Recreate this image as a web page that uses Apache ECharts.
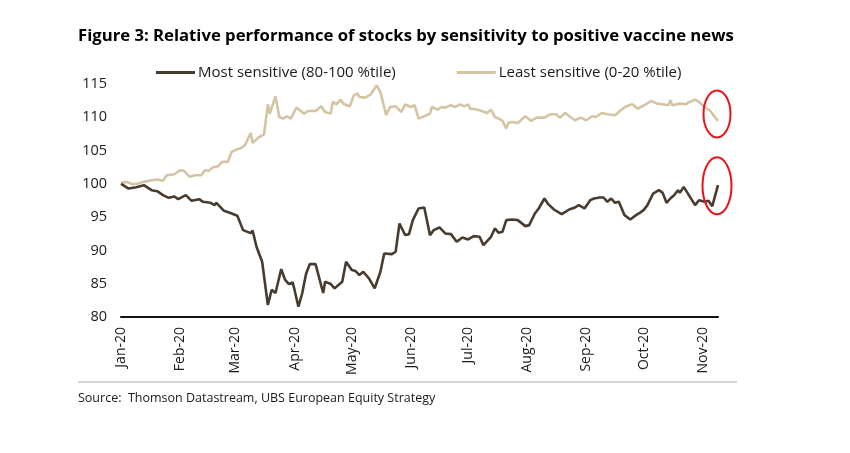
<!DOCTYPE html>
<html>
<head>
<meta charset="utf-8">
<script src="https://cdn.jsdelivr.net/npm/echarts@6/dist/echarts.min.js"></script>
<style>
  html, body { margin: 0; padding: 0; background: #fff; }
  #main { width: 850px; height: 453px; }
</style>
</head>
<body>
<div id="main"></div>
<script>
// series names
const seriesNames = ['Most sensitive (80-100 %tile)', 'Least sensitive (0-20 %tile)'];
const monthNames = ['Jan', 'Feb', 'Mar', 'Apr', 'May', 'Jun', 'Jul', 'Aug', 'Sep', 'Oct', 'Nov', 'Dec'];
const yTicks = [80, 85, 90, 95, 100, 105, 110, 115];

// Most sensitive (80-100 %tile) - dates and index values
const mostDates = [
  '2020-01-01','2020-01-05','2020-01-09','2020-01-13','2020-01-17','2020-01-20','2020-01-23','2020-01-26','2020-01-29','2020-01-31',
  '2020-02-04','2020-02-07','2020-02-11','2020-02-13','2020-02-17','2020-02-19','2020-02-20','2020-02-24','2020-02-27','2020-02-28',
  '2020-03-02','2020-03-05','2020-03-09','2020-03-10','2020-03-12','2020-03-15','2020-03-18','2020-03-20','2020-03-22','2020-03-25',
  '2020-03-27','2020-03-29','2020-03-31','2020-04-01','2020-04-03','2020-04-05','2020-04-07','2020-04-09','2020-04-12','2020-04-16',
  '2020-04-17','2020-04-20','2020-04-22','2020-04-24','2020-04-26','2020-04-28','2020-05-01','2020-05-03','2020-05-05','2020-05-07',
  '2020-05-10','2020-05-13','2020-05-16','2020-05-18','2020-05-22','2020-05-24','2020-05-26','2020-05-29','2020-05-31','2020-06-02',
  '2020-06-05','2020-06-08','2020-06-11','2020-06-13','2020-06-16','2020-06-19','2020-06-22','2020-06-25','2020-06-28','2020-07-01',
  '2020-07-04','2020-07-07','2020-07-09','2020-07-13','2020-07-15','2020-07-17','2020-07-19','2020-07-21','2020-07-24','2020-07-27',
  '2020-07-31','2020-08-02','2020-08-05','2020-08-07','2020-08-10','2020-08-12','2020-08-15','2020-08-19','2020-08-21','2020-08-23',
  '2020-08-26','2020-08-28','2020-08-31','2020-09-03','2020-09-05','2020-09-08','2020-09-09','2020-09-10','2020-09-12','2020-09-14',
  '2020-09-16','2020-09-18','2020-09-21','2020-09-24','2020-09-27','2020-09-29','2020-10-01','2020-10-03','2020-10-06','2020-10-09',
  '2020-10-11','2020-10-13','2020-10-15','2020-10-17','2020-10-19','2020-10-20','2020-10-22','2020-10-24','2020-10-28','2020-10-30',
  '2020-11-02','2020-11-04','2020-11-06','2020-11-09'
];
const mostValues = [
  100.0, 99.3, 99.5, 99.8, 99.05, 98.9, 98.3, 97.9, 98.1, 97.7,
  98.3, 97.45, 97.7, 97.3, 97.15, 96.8, 97.15, 95.95, 95.65, 95.8,
  95.2, 93.05, 92.6, 93.0, 90.6, 88.3, 81.8, 84.1, 83.6, 87.2,
  85.6, 84.95, 85.2, 84.05, 81.55, 83.55, 86.45, 87.95, 87.95, 83.6,
  85.3, 84.95, 84.3, 84.8, 85.3, 88.3, 87.05, 86.9, 86.3, 86.8,
  85.8, 84.3, 86.8, 89.55, 89.45, 89.8, 94.05, 92.3, 92.45, 94.55,
  96.3, 96.45, 92.3, 93.05, 93.45, 92.55, 92.45, 91.3, 91.95, 91.65,
  92.15, 92.05, 90.8, 92.05, 93.3, 92.65, 92.8, 94.55, 94.65, 94.55,
  93.65, 93.8, 95.55, 96.3, 97.8, 96.95, 96.15, 95.45, 95.8, 96.15,
  96.45, 96.8, 96.3, 97.55, 97.8, 97.95, 97.65, 97.95, 97.3, 97.8,
  97.15, 97.3, 95.3, 94.65, 95.3, 95.65, 96.05, 96.8, 98.55, 99.05,
  98.65, 97.15, 97.8, 98.3, 99.05, 98.65, 99.55, 98.65, 96.8, 97.55,
  97.3, 97.45, 96.65, 99.8
];

// Least sensitive (0-20 %tile) - dates and index values
const leastDates = [
  '2020-01-01','2020-01-04','2020-01-07','2020-01-10','2020-01-13','2020-01-17','2020-01-20','2020-01-23','2020-01-25','2020-01-29',
  '2020-02-01','2020-02-03','2020-02-06','2020-02-09','2020-02-12','2020-02-14','2020-02-16','2020-02-18','2020-02-21','2020-02-23',
  '2020-02-26','2020-02-28','2020-02-29','2020-03-02','2020-03-04','2020-03-06','2020-03-09','2020-03-10','2020-03-13','2020-03-16',
  '2020-03-18','2020-03-19','2020-03-22','2020-03-24','2020-03-26','2020-03-28','2020-03-30','2020-04-02','2020-04-03','2020-04-06',
  '2020-04-08','2020-04-12','2020-04-15','2020-04-17','2020-04-20','2020-04-21','2020-04-23','2020-04-25','2020-04-27','2020-04-30',
  '2020-05-02','2020-05-04','2020-05-05','2020-05-08','2020-05-11','2020-05-14','2020-05-16','2020-05-19','2020-05-21','2020-05-24',
  '2020-05-27','2020-05-29','2020-06-01','2020-06-03','2020-06-05','2020-06-08','2020-06-11','2020-06-12','2020-06-15','2020-06-17',
  '2020-06-19','2020-06-22','2020-06-24','2020-06-27','2020-06-29','2020-07-01','2020-07-02','2020-07-05','2020-07-08','2020-07-11',
  '2020-07-13','2020-07-15','2020-07-17','2020-07-19','2020-07-21','2020-07-22','2020-07-24','2020-07-27','2020-07-31','2020-08-03',
  '2020-08-06','2020-08-10','2020-08-13','2020-08-16','2020-08-18','2020-08-21','2020-08-23','2020-08-26','2020-08-29','2020-09-01',
  '2020-09-04','2020-09-06','2020-09-09','2020-09-12','2020-09-16','2020-09-19','2020-09-22','2020-09-25','2020-09-28','2020-10-02',
  '2020-10-05','2020-10-08','2020-10-11','2020-10-14','2020-10-15','2020-10-16','2020-10-20','2020-10-23','2020-10-25','2020-10-28',
  '2020-10-30','2020-11-02','2020-11-05','2020-11-07','2020-11-09'
];
const leastValues = [
  100.15, 100.3, 99.95, 100.05, 100.3, 100.55, 100.65, 100.45, 101.3, 101.45,
  102.05, 101.95, 101.05, 101.3, 101.3, 102.05, 101.95, 102.45, 102.65, 103.3,
  103.3, 104.8, 104.95, 105.2, 105.4, 105.8, 107.65, 106.15, 106.95, 107.45,
  111.95, 110.55, 113.15, 110.05, 109.8, 110.15, 109.8, 111.45, 111.3, 110.55,
  110.95, 110.95, 111.65, 110.8, 110.55, 112.3, 111.95, 112.65, 111.95, 111.65,
  113.3, 113.6, 113.05, 112.95, 113.45, 114.8, 113.8, 110.3, 111.55, 111.65,
  110.8, 111.95, 111.55, 111.8, 109.8, 110.15, 110.55, 111.55, 111.15, 111.55,
  111.45, 111.8, 111.55, 111.95, 111.65, 111.95, 111.3, 111.2, 110.95, 110.65,
  111.15, 110.05, 109.8, 109.45, 108.3, 109.15, 109.3, 109.15, 110.15, 109.45,
  109.95, 109.95, 110.45, 110.45, 109.95, 110.65, 110.15, 109.55, 109.95, 109.55,
  110.15, 110.05, 110.65, 110.45, 110.3, 111.05, 111.65, 111.95, 111.3, 111.95,
  112.45, 112.05, 111.95, 111.8, 112.55, 111.8, 112.05, 111.95, 112.3, 112.65,
  112.3, 111.55, 110.95, 110.15, 109.45
];

const darkColor = '#4a3b2f';
const lightColor = '#d5c4a4';
const fontFamily = '"Open Sans", "Liberation Sans", Arial, sans-serif';

const zip = (dates, values) => dates.map((d, i) => [d, values[i]]);

const chartDom = document.getElementById('main');
const myChart = echarts.init(chartDom, null, { renderer: 'canvas' });

const option = {
  animation: false,
  backgroundColor: '#fff',
  textStyle: { fontFamily: fontFamily, color: '#1a1a1a' },
  title: [
    {
      text: 'Figure 3: Relative performance of stocks by sensitivity to positive vaccine news',
      left: 73,
      top: 23,
      textStyle: { fontSize: 16.7, fontWeight: 'bold', color: '#000', fontFamily: fontFamily }
    },
    {
      text: 'Source:  Thomson Datastream, UBS European Equity Strategy',
      left: 73,
      top: 387,
      textStyle: { fontSize: 12.5, fontWeight: 'normal', color: '#1a1a1a', fontFamily: fontFamily }
    }
  ],
  legend: {
    top: 60,
    left: 151,
    icon: 'rect',
    itemWidth: 39,
    itemHeight: 3,
    itemGap: 61,
    itemStyle: { borderWidth: 0 },
    textStyle: { fontSize: 15, color: '#1a1a1a', fontFamily: fontFamily, padding: [0, 0, 0, -2] },
    data: seriesNames
  },
  grid: { left: 121, right: 132, top: 84, bottom: 136, containLabel: false },
  xAxis: {
    type: 'time',
    min: '2020-01-01',
    max: '2020-11-09',
    minInterval: 28 * 86400000,
    maxInterval: 31 * 86400000,
    splitNumber: 11,
    axisLine: { show: true, lineStyle: { color: '#111', width: 2 } },
    axisTick: { show: false },
    splitLine: { show: false },
    axisLabel: {
      rotate: 90,
      fontSize: 14,
      color: '#1a1a1a',
      margin: 10,
      showMaxLabel: false,
      formatter: function (val) {
        const d = new Date(val);
        return monthNames[d.getMonth()] + '-' + String(d.getFullYear()).slice(2);
      }
    }
  },
  yAxis: {
    type: 'value',
    min: yTicks[0],
    max: yTicks[yTicks.length - 1],
    interval: 5,
    axisLine: { show: false },
    axisTick: { show: false },
    splitLine: { show: false },
    axisLabel: { fontSize: 14.5, color: '#1a1a1a', margin: 14 }
  },
  series: [
    {
      name: seriesNames[0],
      type: 'line',
      symbol: 'none',
      data: zip(mostDates, mostValues),
      lineStyle: { color: darkColor, width: 2.6 },
      itemStyle: { color: darkColor },
      z: 3
    },
    {
      name: seriesNames[1],
      type: 'line',
      symbol: 'none',
      data: zip(leastDates, leastValues),
      lineStyle: { color: lightColor, width: 2.6 },
      itemStyle: { color: lightColor },
      z: 2
    }
  ]
};

option && myChart.setOption(option);

// red ellipses around the last days + grey rule above the source line
const lightPt = myChart.convertToPixel({ gridIndex: 0 }, ['2020-11-09', 110.5]);
const darkPt = myChart.convertToPixel({ gridIndex: 0 }, ['2020-11-09', 99.7]);
myChart.setOption({
  graphic: [
    {
      type: 'ellipse',
      shape: { cx: lightPt[0] - 1, cy: lightPt[1], rx: 13.5, ry: 23.5 },
      style: { fill: 'none', stroke: '#e8141b', lineWidth: 2 },
      z: 10
    },
    {
      type: 'ellipse',
      shape: { cx: darkPt[0] - 1, cy: darkPt[1], rx: 14.5, ry: 28.5 },
      style: { fill: 'none', stroke: '#e8141b', lineWidth: 2 },
      z: 10
    },
    {
      type: 'line',
      shape: { x1: 78, y1: 382, x2: 737, y2: 382 },
      style: { stroke: '#d4d4d4', lineWidth: 2 },
      z: 1
    }
  ]
});
</script>
</body>
</html>
